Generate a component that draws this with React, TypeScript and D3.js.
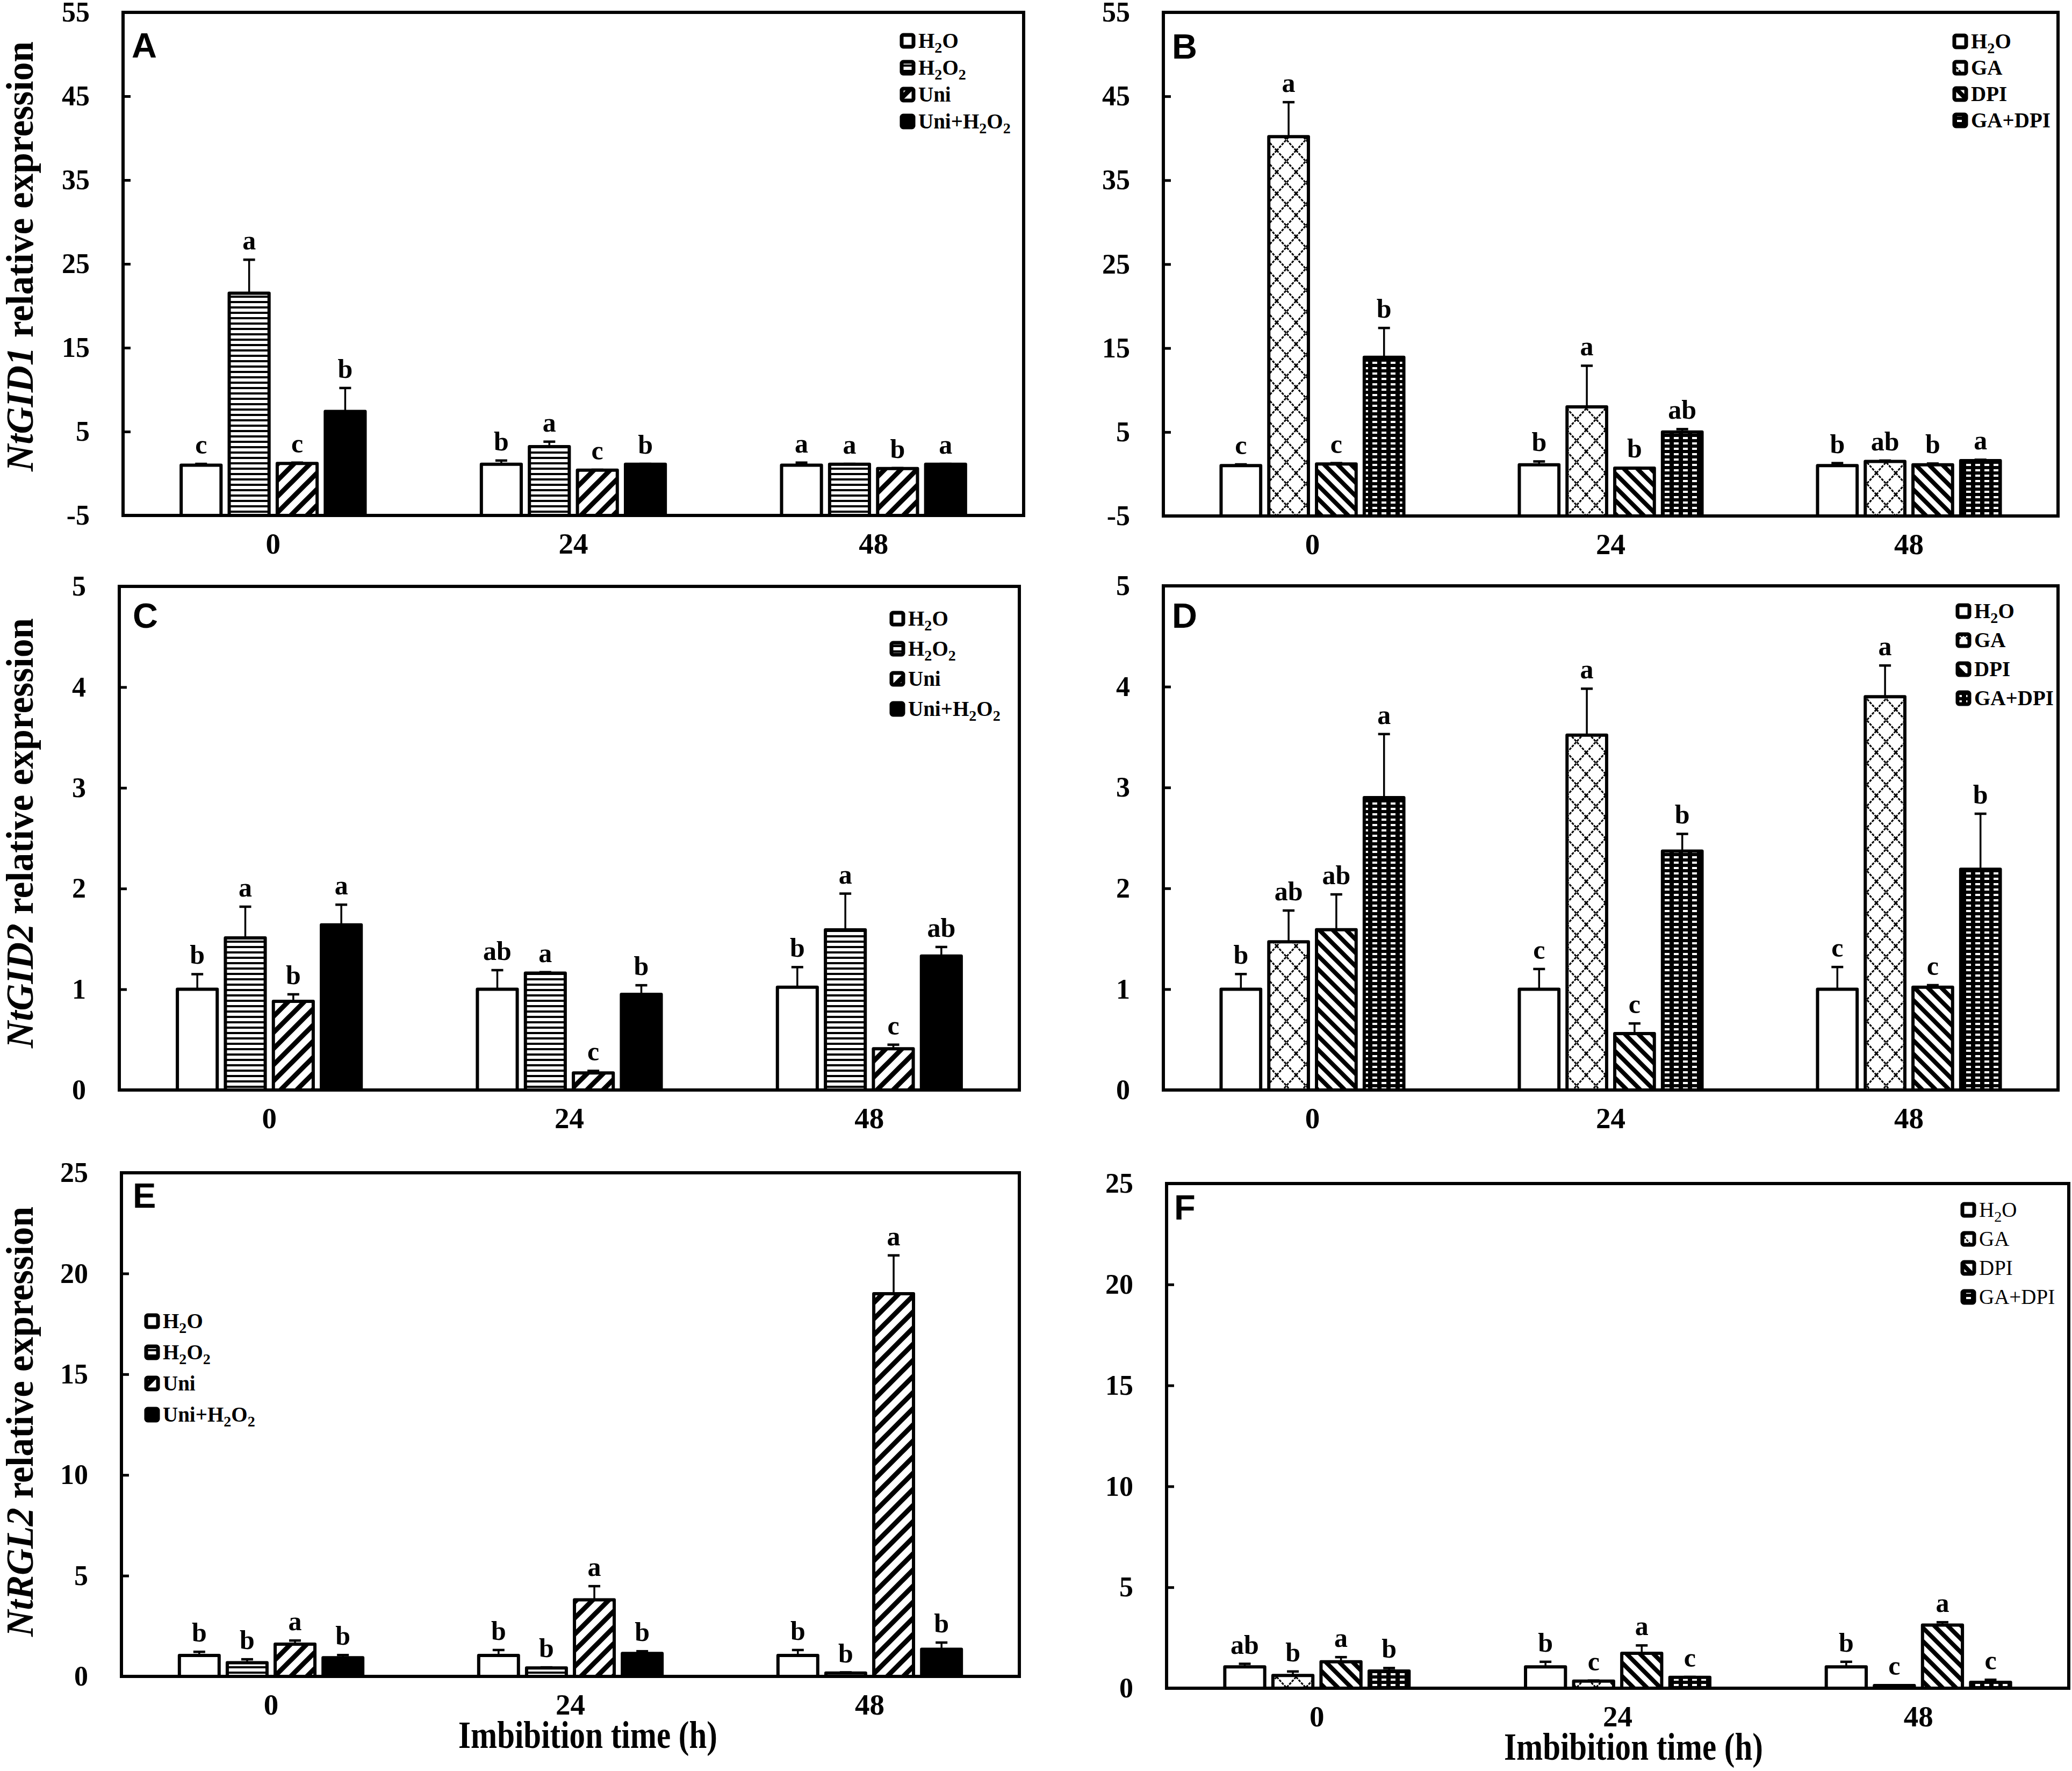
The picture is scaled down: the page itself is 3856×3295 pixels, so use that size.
import React, { useRef, useEffect } from "react";
import * as d3 from "d3";

// imbibition time (h)
const categories = ["0", "24", "48"];

const seriesH2O2 = ["H2O", "H2O2", "Uni", "Uni+H2O2"];
const seriesGA = ["H2O", "GA", "DPI", "GA+DPI"];

// values[series][category]
const valuesA = [[1.0, 1.1, 1.0], [21.5, 3.2, 1.1], [1.2, 0.4, 0.6], [7.4, 1.1, 1.1]];
const errorsA = [[0.15, 0.45, 0.3], [4.0, 0.6, 0.05], [0.1, 0.05, 0.05], [2.8, 0.05, 0.05]];
const lettersA = [["c", "b", "a"], ["a", "a", "a"], ["c", "c", "b"], ["b", "b", "a"]];

const valuesB = [[1.0, 1.1, 1.0], [40.2, 8.0, 1.5], [1.2, 0.7, 1.1], [13.9, 5.0, 1.6]];
const errorsB = [[0.15, 0.4, 0.3], [4.1, 4.9, 0.1], [0.1, 0.05, 0.15], [3.5, 0.35, 0.1]];
const lettersB = [["c", "b", "b"], ["a", "a", "ab"], ["c", "b", "b"], ["b", "ab", "a"]];

const valuesC = [[1.0, 1.0, 1.02], [1.51, 1.16, 1.59], [0.88, 0.17, 0.41], [1.64, 0.95, 1.33]];
const errorsC = [[0.15, 0.19, 0.2], [0.31, 0.01, 0.36], [0.07, 0.02, 0.04], [0.2, 0.09, 0.09]];
const lettersC = [["b", "ab", "b"], ["a", "a", "a"], ["b", "c", "c"], ["a", "b", "ab"]];

const valuesD = [[1.0, 1.0, 1.0], [1.47, 3.52, 3.9], [1.59, 0.56, 1.02], [2.9, 2.37, 2.19]];
const errorsD = [[0.15, 0.2, 0.22], [0.31, 0.46, 0.31], [0.35, 0.1, 0.02], [0.63, 0.17, 0.55]];
const lettersD = [["b", "c", "c"], ["ab", "a", "a"], ["ab", "c", "c"], ["a", "b", "b"]];

const valuesE = [[1.04, 1.04, 1.04], [0.68, 0.42, 0.17], [1.6, 3.8, 19.0], [0.93, 1.14, 1.35]];
const errorsE = [[0.18, 0.27, 0.27], [0.17, 0.03, 0.03], [0.18, 0.68, 1.9], [0.13, 0.11, 0.33]];
const lettersE = [["b", "b", "b"], ["b", "b", "b"], ["a", "a", "a"], ["b", "b", "b"]];

const valuesF = [[1.06, 1.06, 1.06], [0.63, 0.35, 0.13], [1.31, 1.73, 3.13], [0.85, 0.54, 0.29]];
const errorsF = [[0.15, 0.25, 0.25], [0.2, 0.03, 0.02], [0.23, 0.39, 0.14], [0.15, 0.02, 0.13]];
const lettersF = [["ab", "b", "b"], ["b", "c", "c"], ["a", "a", "a"], ["b", "c", "c"]];

const ticksTop = [-5, 5, 15, 25, 35, 45, 55];
const ticksMid = [0, 1, 2, 3, 4, 5];
const ticksLow = [0, 5, 10, 15, 20, 25];

const fillsH2O2 = ["#fff", "url(#pat-hline)", "url(#pat-fdiag)", "#000"];
const fillsGA = ["#fff", "url(#pat-cross)", "url(#pat-bdiag)", "url(#pat-dots)"];

const SERIF = "'Liberation Serif', 'Times New Roman', serif";
const SANS = "'Liberation Sans', Arial, sans-serif";

interface Panel {
  letter: string;
  left: number;
  right: number;
  top: number;
  bottom: number;
  domain: [number, number];
  ticks: number[];
  series: string[];
  values: number[][];
  errors: number[][];
  letters: string[][];
  fills: string[];
  legend: { x: number; y: number; gap: number; bold: boolean };
  tag: [number, number];
  gene?: { name: string; y: number };
  title?: { x: number; y: number };
}

const panels: Panel[] = [
  {
    letter: "A", left: 229, right: 1905, top: 23, bottom: 959, domain: [-5, 55], ticks: ticksTop,
    series: seriesH2O2, values: valuesA, errors: errorsA, letters: lettersA, fills: fillsH2O2,
    legend: { x: 1675, y: 76, gap: 50, bold: true }, tag: [245, 107], gene: { name: "NtGID1", y: 477 },
  },
  {
    letter: "B", left: 2165, right: 3830, top: 23, bottom: 960, domain: [-5, 55], ticks: ticksTop,
    series: seriesGA, values: valuesB, errors: errorsB, letters: lettersB, fills: fillsGA,
    legend: { x: 3634, y: 77, gap: 49, bold: true }, tag: [2181, 109],
  },
  {
    letter: "C", left: 222, right: 1897, top: 1091, bottom: 2028, domain: [0, 5], ticks: ticksMid,
    series: seriesH2O2, values: valuesC, errors: errorsC, letters: lettersC, fills: fillsH2O2,
    legend: { x: 1656, y: 1151, gap: 56, bold: true }, tag: [247, 1168], gene: { name: "NtGID2", y: 1550 },
  },
  {
    letter: "D", left: 2165, right: 3830, top: 1090, bottom: 2028, domain: [0, 5], ticks: ticksMid,
    series: seriesGA, values: valuesD, errors: errorsD, letters: lettersD, fills: fillsGA,
    legend: { x: 3640, y: 1137, gap: 54, bold: true }, tag: [2181, 1168],
  },
  {
    letter: "E", left: 226, right: 1897, top: 2182, bottom: 3119, domain: [0, 25], ticks: ticksLow,
    series: seriesH2O2, values: valuesE, errors: errorsE, letters: lettersE, fills: fillsH2O2,
    legend: { x: 269, y: 2458, gap: 58, bold: true }, tag: [247, 2247], gene: { name: "NtRGL2", y: 2645 },
    title: { x: 1094, y: 3252 },
  },
  {
    letter: "F", left: 2171, right: 3850, top: 2202, bottom: 3141, domain: [0, 25], ticks: ticksLow,
    series: seriesGA, values: valuesF, errors: errorsF, letters: lettersF, fills: fillsGA,
    legend: { x: 3649, y: 2251, gap: 54, bold: false }, tag: [2185, 2269],
    title: { x: 3040, y: 3274 },
  },
];

// H2O2 -> H + sub 2 + O + sub 2
const addLabel = (sel: d3.Selection<SVGTextElement, unknown, null, undefined>, label: string) => {
  const parts = label.split(/(2)/).filter((p) => p !== "");
  let shifted = false;
  parts.forEach((p) => {
    if (p === "2") {
      sel.append("tspan").attr("font-size", "0.72em").attr("dy", 9).text("2");
      shifted = true;
    } else {
      const t = sel.append("tspan").text(p);
      if (shifted) {
        t.attr("dy", -9);
        shifted = false;
      }
    }
  });
};

const App: React.FC = () => {
  const ref = useRef<SVGSVGElement>(null);

  useEffect(() => {
    const svg = d3.select(ref.current);
    svg.selectAll("*").remove();

    // hatch patterns
    const defs = svg.append("defs");
    const hline = defs.append("pattern").attr("id", "pat-hline").attr("patternUnits", "userSpaceOnUse")
      .attr("width", 10).attr("height", 10);
    hline.append("rect").attr("width", 10).attr("height", 10).attr("fill", "#fff");
    hline.append("rect").attr("width", 10).attr("height", 4).attr("fill", "#000");

    const fdiag = defs.append("pattern").attr("id", "pat-fdiag").attr("patternUnits", "userSpaceOnUse")
      .attr("width", 30).attr("height", 30);
    fdiag.append("rect").attr("width", 30).attr("height", 30).attr("fill", "#fff");
    fdiag.append("path").attr("d", "M-8,8 L8,-8 M0,30 L30,0 M22,38 L38,22")
      .attr("stroke", "#000").attr("stroke-width", 9);

    const bdiag = defs.append("pattern").attr("id", "pat-bdiag").attr("patternUnits", "userSpaceOnUse")
      .attr("width", 25).attr("height", 25);
    bdiag.append("rect").attr("width", 25).attr("height", 25).attr("fill", "#fff");
    bdiag.append("path").attr("d", "M-7,18 L7,32 M0,0 L25,25 M18,-7 L32,7")
      .attr("stroke", "#000").attr("stroke-width", 8);

    const cross = defs.append("pattern").attr("id", "pat-cross").attr("patternUnits", "userSpaceOnUse")
      .attr("width", 36).attr("height", 40);
    cross.append("rect").attr("width", 36).attr("height", 40).attr("fill", "#fff");
    cross.append("path").attr("d", "M0,0 L36,40 M36,0 L0,40")
      .attr("stroke", "#000").attr("stroke-width", 3).attr("stroke-dasharray", "5,2");

    const dots = defs.append("pattern").attr("id", "pat-dots").attr("patternUnits", "userSpaceOnUse")
      .attr("width", 17).attr("height", 10);
    dots.append("rect").attr("width", 17).attr("height", 10).attr("fill", "#000");
    dots.append("rect").attr("x", 4).attr("y", 3).attr("width", 9).attr("height", 4).attr("fill", "#fff");

    panels.forEach((p) => {
      const g = svg.append("g").attr("class", `panel-${p.letter}`);

      const x = d3.scaleBand<string>().domain(categories).range([p.left, p.right]);
      const band = x.bandwidth();
      const step = band * 0.16;
      const inner = d3.scaleBand<string>().domain(p.series)
        .range([-2 * step, 2 * step]).paddingInner(0.17).paddingOuter(0.085);
      const y = d3.scaleLinear().domain(p.domain).range([p.bottom, p.top]);
      const base = y(p.domain[0]);

      // y axis, ticks inward
      const yAxis = d3.axisLeft(y).tickValues(p.ticks).tickSize(-14).tickPadding(62)
        .tickFormat((d) => String(d));
      const ya = g.append("g").attr("transform", `translate(${p.left},0)`).call(yAxis);
      ya.select(".domain").remove();
      ya.selectAll("line").attr("stroke", "#000").attr("stroke-width", 5);
      ya.selectAll("text").attr("font-family", SERIF).attr("font-weight", "bold")
        .attr("font-size", 52).attr("fill", "#000");

      // x axis
      const xAxis = d3.axisBottom(x).tickSize(0).tickPadding(32);
      const xa = g.append("g").attr("transform", `translate(0,${p.bottom})`).call(xAxis);
      xa.select(".domain").remove();
      xa.selectAll("text").attr("font-family", SERIF).attr("font-weight", "bold")
        .attr("font-size", 55).attr("fill", "#000");

      // bars
      p.series.forEach((s, si) => {
        categories.forEach((c, ci) => {
          const v = p.values[si][ci];
          const e = p.errors[si][ci];
          const cx = (x(c) || 0) + band / 2 + (inner(s) || 0) + inner.bandwidth() / 2;
          const w = inner.bandwidth();

          g.append("line")
            .attr("x1", cx).attr("x2", cx)
            .attr("y1", y(v)).attr("y2", y(v + e))
            .attr("stroke", "#000").attr("stroke-width", 3.5);
          g.append("line")
            .attr("x1", cx - 11).attr("x2", cx + 11)
            .attr("y1", y(v + e)).attr("y2", y(v + e))
            .attr("stroke", "#000").attr("stroke-width", 4.5);

          g.append("rect")
            .attr("x", cx - w / 2)
            .attr("y", y(v))
            .attr("width", w)
            .attr("height", Math.max(0, base - y(v)))
            .attr("fill", p.fills[si])
            .attr("stroke", "#000")
            .attr("stroke-width", 6)
            .attr("stroke-linejoin", "round");

          g.append("text")
            .attr("x", cx)
            .attr("y", y(v + e) - 19)
            .attr("text-anchor", "middle")
            .attr("font-family", SERIF)
            .attr("font-weight", "bold")
            .attr("font-size", 50)
            .text(p.letters[si][ci]);
        });
      });

      // frame
      g.append("rect")
        .attr("x", p.left).attr("y", p.top)
        .attr("width", p.right - p.left).attr("height", p.bottom - p.top)
        .attr("fill", "none").attr("stroke", "#000").attr("stroke-width", 6);

      // panel tag
      g.append("text")
        .attr("x", p.tag[0]).attr("y", p.tag[1])
        .attr("font-family", SANS).attr("font-weight", "bold").attr("font-size", 65)
        .text(p.letter);

      // legend
      p.series.forEach((s, si) => {
        const ly = p.legend.y + si * p.legend.gap;
        g.append("rect")
          .attr("x", p.legend.x + 3).attr("y", ly - 11)
          .attr("width", 22).attr("height", 22).attr("rx", 3)
          .attr("fill", p.fills[si]).attr("stroke", "#000").attr("stroke-width", 7);
        const t = g.append("text")
          .attr("x", p.legend.x + 34).attr("y", ly + 13)
          .attr("font-family", SERIF)
          .attr("font-weight", p.legend.bold ? "bold" : "normal")
          .attr("font-size", 39);
        addLabel(t, s);
      });

      // y label
      if (p.gene) {
        const t = g.append("text")
          .attr("transform", `translate(61,${p.gene.y}) rotate(-90)`)
          .attr("text-anchor", "middle")
          .attr("font-family", SERIF).attr("font-weight", "bold").attr("font-size", 72)
          .attr("textLength", 800).attr("lengthAdjust", "spacingAndGlyphs");
        t.append("tspan").attr("font-style", "italic").text(p.gene.name);
        t.append("tspan").text(" relative expression");
      }

      // x title
      if (p.title) {
        g.append("text")
          .attr("x", p.title.x).attr("y", p.title.y)
          .attr("text-anchor", "middle")
          .attr("font-family", SERIF).attr("font-weight", "bold").attr("font-size", 72)
          .attr("textLength", 482).attr("lengthAdjust", "spacingAndGlyphs")
          .text("Imbibition time (h)");
      }
    });
  }, []);

  return (
    <svg
      ref={ref}
      width={3856}
      height={3295}
      style={{ position: "absolute", left: 0, top: 0, background: "#fff" }}
    ></svg>
  );
};

export default App;
